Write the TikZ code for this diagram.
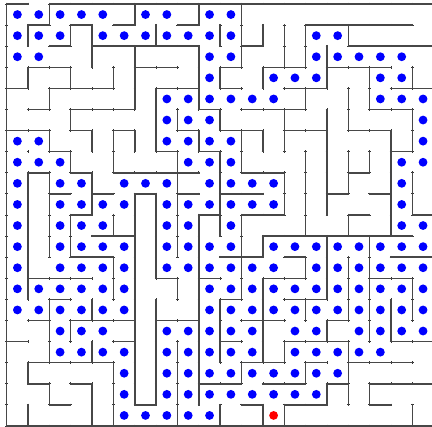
\documentclass[tikz,border=0pt]{standalone}
\usepackage{tikz}

\begin{document}
\begin{tikzpicture}[x=0.75pt, y=-0.75pt,
    wall/.style={draw=black!72, line width=1.1pt, line cap=rect},
    vtick/.style={draw=black!80, line width=0.6pt},
    seen/.style={fill=blue},
    goal/.style={fill=red}]
    \useasboundingbox (0,0) rectangle (432,427);
    % small marks on every grid corner
    \foreach \i in {0,...,20}
        \foreach \j in {0,...,20}
            \draw[vtick] ({5.4+21.35*\i},{4+21.1*\j}) -- ++(2.6,0)
                ({6.7+21.35*\i},{2.7+21.1*\j}) -- ++(0,2.6);
    % outer frame, open above the second column
    \draw[wall] (28.05,4) -- (6.7,4) -- (6.7,426) -- (433.7,426) -- (433.7,4) -- (49.4,4);
    % horizontal walls: line j / columns
    \foreach \j/\cs in {1/{1,3,5,8,14,15,16,17,18},
                        2/{2,4,5,6,7,8,11,16,17,18,19},
                        3/{1,2,6,7,10,12,13,15,16,17},
                        4/{0,2,3,4,7,8,10,13,14,18,19},
                        5/{1,3,4,5,9,11,12,13,17,18},
                        6/{0,1,3,5,8,10,11,13,14,16,17},
                        7/{2,7,9,18},
                        8/{1,3,5,6,7,8,11,12,16},
                        9/{2,4,6,8,10,11,15,17},
                        10/{3,9,11,12,16,19},
                        11/{4,5,12,13,14,15,16,17,18},
                        12/{3,4,10,11,13,18,19},
                        13/{1,2,3,7,9,12,13,17,18},
                        14/{2,10,13,14},
                        15/{1,3,4,5,7,8,11,12,15},
                        16/{0,5,10,13,14,15,18,19},
                        17/{1,2,3,4,11,12,14,16,17,18},
                        18/{1,3,9,10,12,13,15,17,18,19},
                        19/{2,6,11,13,14,17}}
        \foreach \c in \cs
            \draw[wall] ({6.7+21.35*\c},{4+21.1*\j}) -- ({6.7+21.35*(\c+1)},{4+21.1*\j});
    % vertical walls: line i / rows
    \foreach \i/\rs in {1/{1,3,8,9,10,11,12,13,17,19},
                        2/{0,4,6,8,9,10,11,14,15,16,18},
                        3/{1,3,5,7,10,11,15},
                        4/{1,2,6,8,9,14,16,18,19},
                        5/{3,6,7,10,12,13,17,18,19},
                        6/{0,2,3,4,6,9,10,11,12,13,14,15,16,17,18},
                        7/{1,4,5,6,9,10,11,12,14,15,16,17,18},
                        8/{5,7,8,9,10,11,13,16,17,18,19},
                        9/{0,2,3,4,6,10,11,12,13,14,15,16,17,18},
                        10/{1,3,5,7,8,9,10,14,15,16,19},
                        11/{0,1,2,6,7,10,11,12,13,17},
                        12/{1,3,6,11,13,14,15,16,19},
                        13/{1,2,5,6,8,9,16,19},
                        14/{1,2,4,7,8,9,10,12,14,17},
                        15/{2,3,5,6,7,8,9,11,12,13,15,18},
                        16/{1,4,5,7,8,10,12,13,14,16,17,18},
                        17/{3,4,7,11,12,13,14,15,18},
                        18/{6,7,8,9,10,14,15},
                        19/{3,5,6,8,9,13,14,19}}
        \foreach \r in \rs
            \draw[wall] ({6.7+21.35*\i},{4+21.1*\r}) -- ({6.7+21.35*\i},{4+21.1*(\r+1)});
    % visited cells: row / columns
    \foreach \r/\cs in {0/{0,1,2,3,4,6,7,9,10},
                        1/{0,1,2,4,5,6,7,8,9,10,14,15},
                        2/{0,1,9,10,14,15,16,17,18},
                        3/{9,12,13,14,17,18},
                        4/{7,8,9,10,11,12,17,18,19},
                        5/{7,8,9,19},
                        6/{0,1,7,8,9,10,19},
                        7/{0,1,2,8,9,10,18,19},
                        8/{0,2,3,5,6,7,9,10,11,12,18},
                        9/{0,2,3,4,5,7,8,9,10,11,12,18},
                        10/{0,2,3,4,7,8,10,18,19},
                        11/{0,2,3,4,5,7,8,9,10,12,13,14,15,16,17,18,19},
                        12/{0,2,3,4,5,7,8,9,10,11,12,14,15,16,17,18,19},
                        13/{0,1,2,3,4,5,9,10,11,12,13,14,15,16,17,18,19},
                        14/{0,1,2,3,4,5,9,10,11,12,13,14,15,16,17,18,19},
                        15/{2,3,4,7,8,9,10,11,13,14,16,17,18,19},
                        16/{2,3,4,5,7,8,9,10,11,13,14,15,16,17},
                        17/{5,7,8,9,10,11,12,13,14,15},
                        18/{5,7,8,9,10,11,12,13,14},
                        19/{5,6,7,8,9}}
        \foreach \c in \cs
            \fill[seen] ({17.4+21.35*\c},{14.55+21.1*\r}) circle (3.3pt);
    \fill[goal] ({17.4+21.35*12},{14.55+21.1*19}) circle (3.3pt);
\end{tikzpicture}
\end{document}
